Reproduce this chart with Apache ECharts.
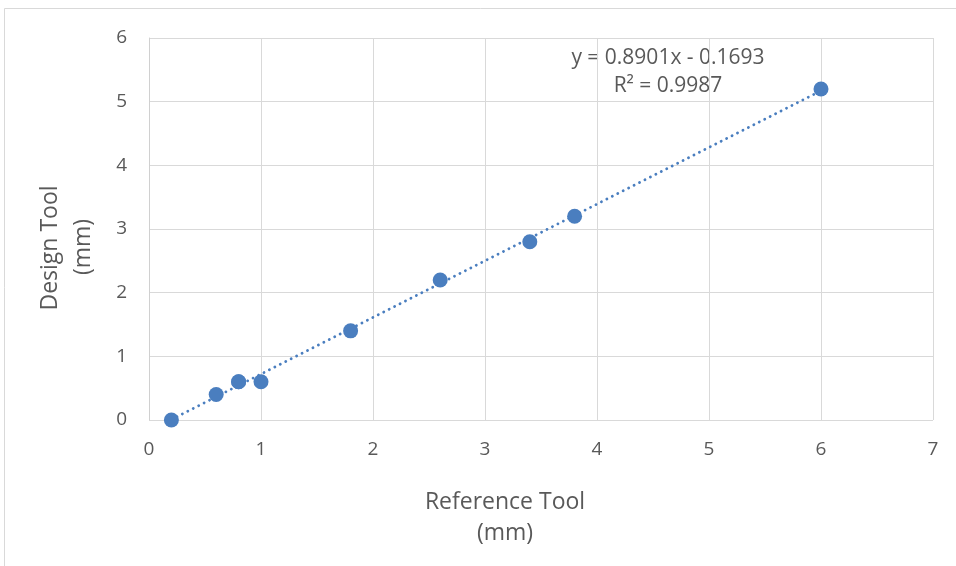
<!DOCTYPE html>
<html><head><meta charset="utf-8">
<script src="https://cdn.jsdelivr.net/npm/echarts@6/dist/echarts.min.js"></script>
<style>html,body{margin:0;padding:0;background:#fff}#c{width:956px;height:566px}</style>
</head><body><div id="c"></div>
<script>
var xValues = [0.2, 0.6, 0.8, 0.8, 1.0, 1.8, 2.6, 3.4, 3.8, 6.0];
var yValues = [0.0, 0.4, 0.6, 0.6, 0.6, 1.4, 2.2, 2.8, 3.2, 5.2];
var slope = 0.8901, intercept = -0.1693;
var trendRange = [0.2, 6.0];
var equationText = 'y = 0.8901x - 0.1693';
var r2Text = 'R² = 0.9987';
var xTitle = ['Reference Tool', '(mm)'];
var yTitle = ['Design Tool', '(mm)'];

var pts = xValues.map(function(x, i){ return [x, yValues[i]]; });
var trend = trendRange.map(function(x){ return [x, slope * x + intercept]; });
var font = 'Open Sans';
var txt = '#595959';
function label(text, x, y, size, rot) {
  return {type: 'text', x: x, y: y, rotation: rot || 0,
    style: {text: text, fill: txt, fontFamily: font, fontSize: size, align: 'center', verticalAlign: 'middle'}};
}
var chart = echarts.init(document.getElementById('c'));
chart.setOption({
  animation: false,
  grid: {left: 149, right: 23, top: 38, bottom: 146},
  xAxis: {type: 'value', min: 0, max: 7, interval: 1,
    axisLine: {show: false}, axisTick: {show: false},
    splitLine: {lineStyle: {color: '#d9d9d9', width: 1}},
    axisLabel: {color: txt, fontFamily: font, fontSize: 19, margin: 20}},
  yAxis: {type: 'value', min: 0, max: 6, interval: 1,
    axisLine: {show: true, lineStyle: {color: '#d0d0d0', width: 1}}, axisTick: {show: false},
    splitLine: {lineStyle: {color: '#d9d9d9', width: 1}},
    axisLabel: {color: txt, fontFamily: font, fontSize: 19, margin: 22}},
  graphic: [
    {type: 'rect', shape: {x: 4.5, y: 8.5, width: 1200, height: 1200}, style: {fill: 'none', stroke: '#d9d9d9', lineWidth: 1}, silent: true, z: -10},
    label(xTitle[0], 505, 502, 23),
    label(xTitle[1], 505, 533, 23),
    label(yTitle[0], 50, 248, 23, Math.PI/2),
    label(yTitle[1], 83, 247, 23, Math.PI/2),
    label(equationText, 668, 58, 21),
    label(r2Text, 668, 86, 21)
  ],
  series: [
    {type: 'line', data: trend, symbol: 'none', silent: true, z: 1,
      lineStyle: {color: '#4a7ebf', width: 2.8, type: [0.1, 6], cap: 'round'}},
    {type: 'scatter', data: pts, symbol: 'circle', symbolSize: 15, z: 2,
      itemStyle: {color: '#4a7ebf', opacity: 1}}
  ]
});
</script></body></html>
